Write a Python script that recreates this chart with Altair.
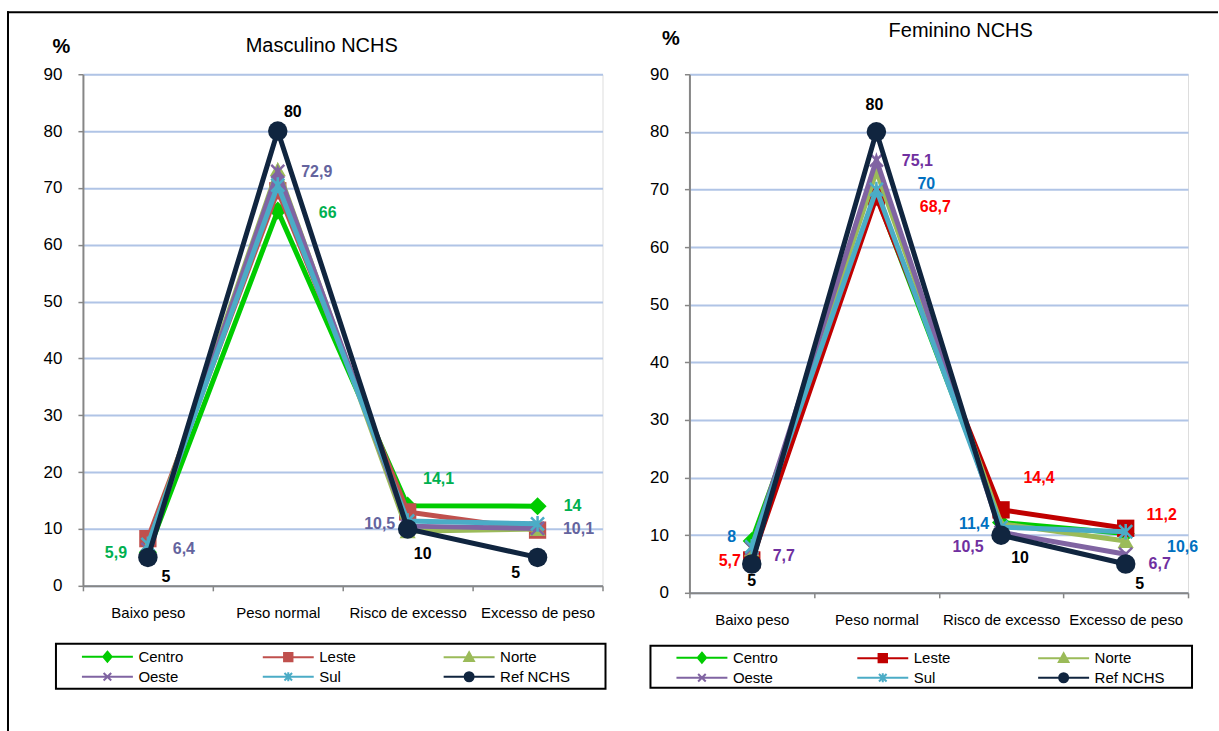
import altair as alt
import pandas as pd

# ---------------- DADOS ----------------
categorias = ["Baixo peso", "Peso normal", "Risco de excesso", "Excesso de peso"]
series = ["Centro", "Leste", "Norte", "Oeste", "Sul", "Ref NCHS"]

masc_centro = [5.9, 66.0, 14.1, 14.0]
masc_leste = [8.3, 69.5, 13.0, 9.8]
masc_norte = [7.0, 73.3, 9.6, 10.0]
masc_oeste = [6.4, 72.9, 10.5, 10.1]
masc_sul = [7.3, 70.5, 11.4, 10.9]
masc_ref = [5.0, 80.0, 10.0, 5.0]

fem_centro = [9.0, 69.0, 12.2, 10.3]
fem_leste = [5.7, 68.7, 14.4, 11.2]
fem_norte = [7.5, 73.2, 12.0, 9.0]
fem_oeste = [7.7, 75.1, 10.5, 6.7]
fem_sul = [8.0, 70.0, 11.4, 10.6]
fem_ref = [5.0, 80.0, 10.0, 5.0]

titulo_masc = "Masculino NCHS"
titulo_fem = "Feminino NCHS"
titulo_eixo_y = "%"

# rótulos de dados exibidos: (série, índice da categoria)
rotulos_masc = [("Centro", 0), ("Centro", 1), ("Centro", 2), ("Centro", 3),
                ("Oeste", 0), ("Oeste", 1), ("Oeste", 2), ("Oeste", 3),
                ("Ref NCHS", 0), ("Ref NCHS", 1), ("Ref NCHS", 2), ("Ref NCHS", 3)]
rotulos_fem = [("Leste", 0), ("Leste", 1), ("Leste", 2), ("Leste", 3),
               ("Sul", 0), ("Sul", 1), ("Sul", 2), ("Sul", 3),
               ("Oeste", 0), ("Oeste", 1), ("Oeste", 2), ("Oeste", 3),
               ("Ref NCHS", 0), ("Ref NCHS", 1), ("Ref NCHS", 2), ("Ref NCHS", 3)]

# ---------------- ESTILO ----------------
FONTE = "Liberation Sans, Arial, sans-serif"
CINZA = "#868686"
AZUL_GRADE = "#B0C4E6"

cores_masc = {"Centro": "#00CC00", "Leste": "#C0504D", "Norte": "#9BBB59",
              "Oeste": "#8064A2", "Sul": "#4BACC6", "Ref NCHS": "#10253F"}
cores_fem = dict(cores_masc, Leste="#C00000")
cor_rotulo_masc = {"Centro": "#00B050", "Oeste": "#64649E", "Ref NCHS": "#000000"}
cor_rotulo_fem = {"Leste": "#FF0000", "Sul": "#0070C0", "Oeste": "#7030A0", "Ref NCHS": "#000000"}

X_PATH = "M-1,-1L1,1M-1,1L1,-1"
AST_PATH = "M-1,-1L1,1M-1,1L1,-1M0,-1.2L0,1.2"
formas = {"Centro": "diamond", "Leste": "square", "Norte": "triangle-up",
          "Oeste": X_PATH, "Sul": AST_PATH, "Ref NCHS": "circle"}
preenchido = {"Centro": True, "Leste": True, "Norte": True,
              "Oeste": False, "Sul": False, "Ref NCHS": True}
tamanhos = {"Centro": 330, "Leste": 300, "Norte": 260, "Oeste": 170, "Sul": 170, "Ref NCHS": 380}

LINHA = "M-2.55,0H2.55"
formas_legenda = {
    "Centro": LINHA + "M0,-0.5L0.42,0L0,0.5L-0.42,0Z",
    "Leste": LINHA + "M-0.42,-0.42H0.42V0.42H-0.42Z",
    "Norte": LINHA + "M0,-0.5L0.48,0.38H-0.48Z",
    "Oeste": LINHA + "M-0.38,-0.38L0.38,0.38M-0.38,0.38L0.38,-0.38",
    "Sul": LINHA + "M-0.38,-0.38L0.38,0.38M-0.38,0.38L0.38,-0.38M0,-0.45V0.45",
    "Ref NCHS": LINHA + "M0.45,0A0.45,0.45,0,1,1,-0.45,0A0.45,0.45,0,1,1,0.45,0Z",
}

# deslocamentos (px) dos rótulos em relação ao ponto
desloc_masc = {("Centro", 0): (-32, 1), ("Centro", 1): (50, 2), ("Centro", 2): (31, -27), ("Centro", 3): (35, 0),
               ("Oeste", 0): (36, 0), ("Oeste", 1): (39, 1), ("Oeste", 2): (-28, -2), ("Oeste", 3): (41, 1),
               ("Ref NCHS", 0): (18, 20), ("Ref NCHS", 1): (15, -19), ("Ref NCHS", 2): (15, 25), ("Ref NCHS", 3): (-22, 16)}
desloc_fem = {("Leste", 0): (-22, 1), ("Leste", 1): (59, 10), ("Leste", 2): (38, -32), ("Leste", 3): (36, -13),
              ("Sul", 0): (-20, -10), ("Sul", 1): (50, -5), ("Sul", 2): (-27, -3), ("Sul", 3): (57, 15),
              ("Oeste", 0): (32, 8), ("Oeste", 1): (41, 1), ("Oeste", 2): (-33, 15), ("Oeste", 3): (34, 10),
              ("Ref NCHS", 0): (0, 17), ("Ref NCHS", 1): (-2, -27), ("Ref NCHS", 2): (19, 23), ("Ref NCHS", 3): (14, 20)}


def tabela(valores):
    linhas = []
    for s, vals in valores.items():
        for i, v in enumerate(vals):
            linhas.append({"serie": s, "categoria": categorias[i], "valor": v})
    return pd.DataFrame(linhas)


def painel(valores, cores, cor_rotulo, rotulos, desloc, titulo, largura, altura,
           pct_xy, titulo_dx, titulo_off, leg_xy, caixa, borda=False):
    df = tabela(valores)
    base = alt.Chart(df)
    x = alt.X("categoria:N", sort=categorias,
              scale=alt.Scale(type="band", domain=categorias, paddingInner=0, paddingOuter=0),
              axis=alt.Axis(title=None, labelAngle=0, tickBand="extent", domainColor=CINZA,
                            domainWidth=2, tickColor=CINZA, tickWidth=1.5, tickSize=5,
                            labelFontSize=15, labelPadding=15, labelColor="#000000",
                            labelFont=FONTE, grid=False))
    y = alt.Y("valor:Q", scale=alt.Scale(domain=[0, 90], nice=False),
              axis=alt.Axis(values=list(range(0, 91, 10)), grid=True, gridColor=AZUL_GRADE,
                            gridWidth=2, domainColor=CINZA, domainWidth=2, tickColor=CINZA,
                            tickWidth=1.5, tickSize=5, labelFontSize=17, labelFont=FONTE,
                            labelColor="#000000", labelPadding=16, title=titulo_eixo_y,
                            titleAngle=0, titleFont=FONTE, titleFontSize=20, titleFontWeight="bold",
                            titleX=pct_xy[0], titleY=pct_xy[1], titleAlign="center",
                            titleBaseline="middle", titleColor="#000000"))
    camadas = []
    for s in series:
        d = base.transform_filter(alt.datum.serie == s)
        camadas.append(d.mark_line(color=cores[s], strokeWidth=5, opacity=1).encode(x=x, y=y))
        camadas.append(d.mark_point(shape=formas[s], filled=preenchido[s], color=cores[s],
                                    size=tamanhos[s], opacity=1, strokeWidth=2.5).encode(x=x, y=y))
    calc = "replace(format(datum.valor, '.1~f'), '.', ',')"
    for (s, i) in rotulos:
        dx, dy = desloc[(s, i)]
        camadas.append(
            base.transform_filter((alt.datum.serie == s) & (alt.datum.categoria == categorias[i]))
            .transform_calculate(rotulo=calc)
            .mark_text(dx=dx, dy=dy, color=cor_rotulo[s], fontWeight="bold", fontSize=16,
                       font=FONTE, align="center", baseline="middle")
            .encode(x=x, y=y, text="rotulo:N"))
    # legenda
    leg = alt.Legend(title=None, orient="none", direction="horizontal", legendX=leg_xy[0],
                     legendY=leg_xy[1], columns=3, columnPadding=leg_xy[2], rowPadding=0,
                     symbolSize=400, symbolStrokeWidth=2, symbolOffset=15.5, labelOffset=20,
                     labelFontSize=15, labelFont=FONTE, labelColor="#000000", gridAlign="all",
                     padding=0)
    camadas.append(
        base.transform_filter(alt.datum.valor < 0)
        .mark_point(filled=True, opacity=1)
        .encode(x=x, y=y,
                fill=alt.Fill("serie:N", scale=alt.Scale(domain=series, range=[cores[s] for s in series]), legend=leg),
                stroke=alt.Stroke("serie:N", scale=alt.Scale(domain=series, range=[cores[s] for s in series]), legend=leg),
                shape=alt.Shape("serie:N", scale=alt.Scale(domain=series, range=[formas_legenda[s] for s in series]), legend=leg)))
    um = alt.Data(values=[{"k": 1}])
    camadas.append(alt.Chart(um).mark_rect(fill="transparent", stroke="#000000", strokeWidth=2)
                   .encode(x=alt.value(caixa[0]), x2=alt.value(caixa[1]),
                           y=alt.value(caixa[2]), y2=alt.value(caixa[3])))
    if borda:
        camadas.append(alt.Chart(um).mark_rule(color="#000000", strokeWidth=2, strokeCap="square")
                       .encode(x=alt.value(-75), y=alt.value(-62), y2=alt.value(657)))
        camadas.append(alt.Chart(um).mark_rule(color="#000000", strokeWidth=2, strokeCap="square")
                       .encode(x=alt.value(-75), x2=alt.value(1135), y=alt.value(-62)))
    return alt.layer(*camadas).properties(
        width=largura, height=altura,
        title=alt.TitleParams(text=titulo, fontSize=20, font=FONTE, fontWeight="normal",
                              anchor="middle", frame="group", dx=titulo_dx, offset=titulo_off,
                              color="#000000"))


val_masc = {"Centro": masc_centro, "Leste": masc_leste, "Norte": masc_norte,
            "Oeste": masc_oeste, "Sul": masc_sul, "Ref NCHS": masc_ref}
val_fem = {"Centro": fem_centro, "Leste": fem_leste, "Norte": fem_norte,
           "Oeste": fem_oeste, "Sul": fem_sul, "Ref NCHS": fem_ref}

esq = painel(val_masc, cores_masc, cor_rotulo_masc, rotulos_masc, desloc_masc, titulo_masc,
             520, 512, (-22, -28), -21, -45, (-2, 572, 50), (-27, 523, 570, 615), borda=True)
dir_ = painel(val_fem, cores_fem, cor_rotulo_fem, rotulos_fem, desloc_fem, titulo_fem,
              499, 519, (-19, -36), 22, -13, (-14, 573, 50), (-39, 503, 572, 614))

chart = alt.hconcat(esq, dir_, spacing=87, bounds="flush", padding={"left": 6, "top": 10, "right": 0, "bottom": 0}
                    ).resolve_scale(fill="independent", stroke="independent", shape="independent"
                    ).resolve_legend(fill="independent", stroke="independent", shape="independent"
                    ).configure_view(stroke="transparent").configure(background="#FFFFFF")

chart.save("out.html", embed_options={"renderer": "svg", "actions": False})
